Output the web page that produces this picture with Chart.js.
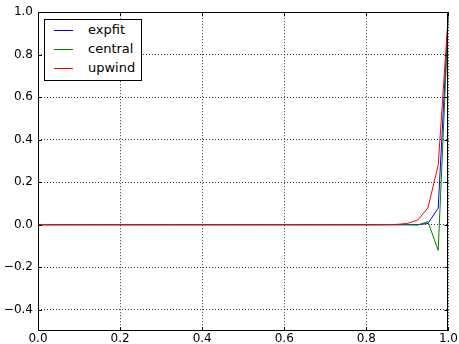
<!DOCTYPE html>
<html>
<head>
<meta charset="utf-8">
<script src="https://cdn.jsdelivr.net/npm/chart.js@4/dist/chart.umd.min.js"></script>
<style>
  body { margin: 0; background: #fff; }
  #wrap { position: relative; width: 459px; height: 344px; }
  #legend {
    position: absolute; left: 44px; top: 19px; width: 96px; height: 60px;
    border: 1px solid #000; background: #fff;
    font-family: "DejaVu Sans", sans-serif; font-size: 13px; color: #000;
  }
  #legend .swatch { position: absolute; left: 9px; width: 19px; height: 0; border-top: 1px solid #000; }
  #legend .label { position: absolute; left: 43px; white-space: nowrap; line-height: 16px; }
</style>
</head>
<body>
<div id="wrap">
  <canvas id="myChart" width="459" height="344"></canvas>
  <div id="legend"></div>
</div>
<script>
const xs = [
    0.000, 0.025, 0.050, 0.075, 0.100, 0.125, 0.150, 0.175, 0.200, 0.225,
    0.250, 0.275, 0.300, 0.325, 0.350, 0.375, 0.400, 0.425, 0.450, 0.475,
    0.500, 0.525, 0.550, 0.575, 0.600, 0.625, 0.650, 0.675, 0.700, 0.725,
    0.750, 0.775, 0.800, 0.825, 0.850, 0.875, 0.900, 0.925, 0.950, 0.975,
    1.000,
];
const expfit = [
    0, 0, 0, 0, 0, 0, 0, 0, 0, 0,
    0, 0, 0, 0, 0, 0, 0, 0, 0, 0,
    0, 0, 0, 0, 0, 0, 0, 0, 0, 0,
    0, 0, 0, 0, 0, 0, 0, 0.0005, 0.006, 0.078,
    1.0,
];
const central = [
    0, 0, 0, 0, 0, 0, 0, 0, 0, 0,
    0, 0, 0, 0, 0, 0, 0, 0, 0, 0,
    0, 0, 0, 0, 0, 0, 0, 0, 0, 0,
    0, 0, 0, 0, 0, 0, 0.0002, -0.002, 0.015, -0.121,
    1.0,
];
const upwind = [
    0, 0, 0, 0, 0, 0, 0, 0, 0, 0,
    0, 0, 0, 0, 0, 0, 0, 0, 0, 0,
    0, 0, 0, 0, 0, 0, 0, 0, 0, 0,
    0, 0, 0, 0.0001, 0.0005, 0.0018, 0.0063, 0.022, 0.079, 0.28,
    1.0,
];
const xTicks = [0.0, 0.2, 0.4, 0.6, 0.8, 1.0];
const yTicks = [-0.4, -0.2, 0.0, 0.2, 0.4, 0.6, 0.8, 1.0];

function pts(ys) {
    return xs.map((x, i) => ({ x: x, y: ys[i] }));
}

const data = {
    datasets: [{
        label: 'expfit',
        borderColor: '#0000ff',
        backgroundColor: '#0000ff',
        data: pts(expfit),
        order: 2,
    }, {
        label: 'central',
        borderColor: '#008000',
        backgroundColor: '#008000',
        data: pts(central),
        order: 1,
    }, {
        label: 'upwind',
        borderColor: '#ff0000',
        backgroundColor: '#ff0000',
        data: pts(upwind),
        order: 0,
    }]
};

const fmt = v => v.toFixed(1).replace('-', '\u2212');

// frame plus inward ticks on all four sides, like matplotlib classic
const frame = {
    id: 'frame',
    afterDatasetsDraw(chart) {
        const { ctx, chartArea: a, scales } = chart;
        ctx.save();
        ctx.strokeStyle = '#000';
        ctx.lineWidth = 1;
        ctx.setLineDash([]);
        ctx.beginPath();
        xTicks.forEach(v => {
            const px = Math.round(scales.x.getPixelForValue(v)) + 0.5;
            ctx.moveTo(px, a.bottom); ctx.lineTo(px, a.bottom - 4);
            ctx.moveTo(px, a.top); ctx.lineTo(px, a.top + 4);
        });
        yTicks.forEach(v => {
            const py = Math.round(scales.y.getPixelForValue(v)) + 0.5;
            ctx.moveTo(a.left, py); ctx.lineTo(a.left + 4, py);
            ctx.moveTo(a.right, py); ctx.lineTo(a.right - 4, py);
        });
        ctx.stroke();
        ctx.strokeRect(Math.round(a.left) + 0.5, Math.round(a.top) + 0.5,
            Math.round(a.right - a.left) - 1, Math.round(a.bottom - a.top) - 1);
        ctx.restore();
    }
};

const config = {
    type: 'line',
    data: data,
    options: {
        responsive: false,
        animation: false,
        layout: { padding: { top: 12, right: 9, left: 0, bottom: 0 } },
        elements: {
            line: { borderWidth: 1, tension: 0, fill: false },
            point: { radius: 0 },
        },
        plugins: { legend: { display: false }, tooltip: { enabled: false } },
        scales: {
            x: {
                type: 'linear',
                min: 0, max: 1,
                afterBuildTicks: s => { s.ticks = xTicks.map(v => ({ value: v })); },
                afterFit: s => { s.height = 13; },
                ticks: {
                    padding: 1,
                    color: '#000',
                    font: { family: 'DejaVu Sans', size: 12 },
                    callback: fmt,
                    maxRotation: 0,
                },
                grid: { color: '#000', lineWidth: 0.8, drawTicks: false },
                border: { display: false, dash: [1, 2] },
            },
            y: {
                type: 'linear',
                min: -0.5, max: 1.0,
                afterBuildTicks: s => { s.ticks = yTicks.map(v => ({ value: v })); },
                afterFit: s => { s.width = 38; },
                ticks: {
                    padding: 5,
                    color: '#000',
                    font: { family: 'DejaVu Sans', size: 12 },
                    callback: fmt,
                },
                grid: { color: '#000', lineWidth: 0.8, drawTicks: false },
                border: { display: false, dash: [1, 2] },
            }
        }
    },
    plugins: [frame]
};

var myChart = new Chart(document.getElementById('myChart'), config);

// legend box inside the plot, upper left
const legend = document.getElementById('legend');
data.datasets.forEach((ds, i) => {
    const sw = document.createElement('div');
    sw.className = 'swatch';
    sw.style.top = (10 + i * 19) + 'px';
    sw.style.borderTopColor = ds.borderColor;
    const lab = document.createElement('div');
    lab.className = 'label';
    lab.style.top = (2 + i * 19) + 'px';
    lab.textContent = ds.label;
    legend.appendChild(sw);
    legend.appendChild(lab);
});
</script>
</body>
</html>
